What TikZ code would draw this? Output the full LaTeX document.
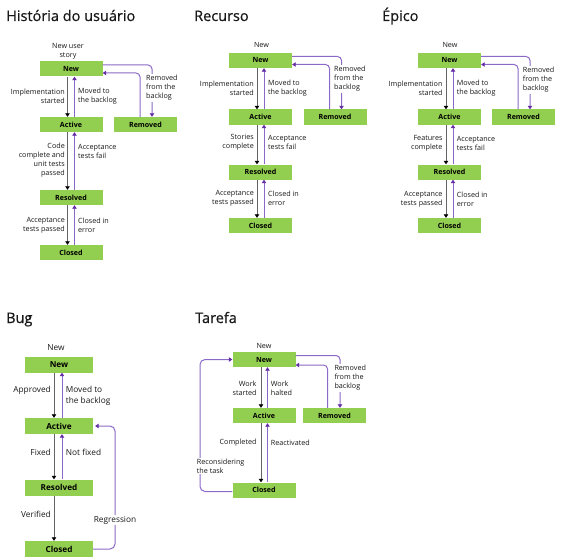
\documentclass[tikz,border=0pt]{standalone}
\usepackage{fontspec}
\setmainfont{Open Sans}
\newfontfamily\ttlfont[FakeBold=0.6]{Open Sans}
\usetikzlibrary{arrows.meta}
\definecolor{stgreen}{RGB}{146,206,80}
\definecolor{fwdline}{RGB}{100,100,100}
\definecolor{backline}{RGB}{140,105,200}
\definecolor{backtip}{RGB}{100,45,165}
\definecolor{txt}{RGB}{25,25,25}
\tikzset{
 st/.style={fill=stgreen, minimum width=63pt, minimum height=15pt, inner sep=0pt, font=\bfseries\fontsize{7.1}{8}\selectfont},
 bst/.style={st, minimum width=68pt, minimum height=16pt, font=\bfseries\fontsize{8.2}{9}\selectfont},
 lbl/.style={inner xsep=0pt, inner ysep=1pt, fill=white, font=\fontsize{7.2}{9}\selectfont, text=txt},
 lr/.style={lbl, anchor=east, align=right},
 ll/.style={lbl, anchor=west, align=left},
 big/.style={font=\fontsize{8.3}{11}\selectfont},
 fwd/.style={draw=fwdline, line width=1pt, -{Triangle[width=4.5pt,length=3.5pt,color=black]}},
 bwd/.style={draw=backline, line width=1pt, -{Triangle[width=4.5pt,length=3.5pt,color=backtip]}},
 rc/.style={rounded corners=4pt},
 ttl/.style={anchor=base west, inner sep=0pt, font=\ttlfont\fontsize{14.5}{17}\selectfont, text=txt},
}
\begin{document}
\begin{tikzpicture}[x=1pt,y=-1pt]
\useasboundingbox (0,0) rectangle (564,559);
% ---------- Historia do usuario ----------
\node[ttl] (Ht) at (6,21) {História do usuário};
\node[st] (Hn) at (71,69) {New};
\node[st] (Ha) at (71,124.5) {Active};
\node[st] (Hm) at (145.5,124.5) {Removed};
\node[st] (Hr) at (71,197.5) {Resolved};
\node[st] (Hc) at (71,252.5) {Closed};
\draw[fwd] ([xshift=-3.5pt]Hn.south) -- ([xshift=-3.5pt]Ha.north);
\draw[bwd] ([xshift=3.5pt]Ha.north) -- ([xshift=3.5pt]Hn.south);
\draw[fwd] ([xshift=-3.5pt]Ha.south) -- ([xshift=-3.5pt]Hr.north);
\draw[bwd] ([xshift=3.5pt]Hr.north) -- ([xshift=3.5pt]Ha.south);
\draw[fwd] ([xshift=-3.5pt]Hr.south) -- ([xshift=-3.5pt]Hc.north);
\draw[bwd] ([xshift=3.5pt]Hc.north) -- ([xshift=3.5pt]Hr.south);
\draw[bwd,rc] ([yshift=4pt]Hn.east) -| ([xshift=6.5pt]Hm.north);
\draw[bwd,rc] ([xshift=-5.5pt]Hm.north) |- ([yshift=-4pt]Hn.east);
\node[lbl, align=center] (Hl0) at (68,51) {New user\\story};
\node[lr] (Hl1) at (65,96) {Implementation\\started};
\node[ll] (Hl2) at (78,96) {Moved to\\the backlog};
\node[ll] (Hl3) at (146,88) {Removed\\from the\\backlog};
\node[lr] (Hl4) at (65,160) {Code\\complete and\\unit tests\\passed};
\node[ll] (Hl5) at (78,151.5) {Acceptance\\tests fail};
\node[lr] (Hl6) at (65,225.5) {Acceptance\\tests passed};
\node[ll] (Hl7) at (78,225.5) {Closed in\\error};
% ---------- Recurso ----------
\node[ttl] (Rt) at (194,21) {Recurso};
\node[st] (Rn) at (260.5,60.5) {New};
\node[st] (Ra) at (260.5,117) {Active};
\node[st] (Rm) at (335,117) {Removed};
\node[st] (Rr) at (260.5,172) {Resolved};
\node[st] (Rc) at (260.5,225.5) {Closed};
\draw[fwd] ([xshift=-3.5pt]Rn.south) -- ([xshift=-3.5pt]Ra.north);
\draw[bwd] ([xshift=3.5pt]Ra.north) -- ([xshift=3.5pt]Rn.south);
\draw[fwd] ([xshift=-3.5pt]Ra.south) -- ([xshift=-3.5pt]Rr.north);
\draw[bwd] ([xshift=3.5pt]Rr.north) -- ([xshift=3.5pt]Ra.south);
\draw[fwd] ([xshift=-3.5pt]Rr.south) -- ([xshift=-3.5pt]Rc.north);
\draw[bwd] ([xshift=3.5pt]Rc.north) -- ([xshift=3.5pt]Rr.south);
\draw[bwd,rc] ([yshift=4pt]Rn.east) -| ([xshift=6.5pt]Rm.north);
\draw[bwd,rc] ([xshift=-5.5pt]Rm.north) |- ([yshift=-4pt]Rn.east);
\node[lbl] (Rl0) at (261.5,45) {New};
\node[lr] (Rl1) at (254,88) {Implementation\\started};
\node[ll] (Rl2) at (268,88) {Moved to\\the backlog};
\node[ll] (Rl3) at (334,79) {Removed\\from the\\backlog};
\node[lr] (Rl4) at (254,142.5) {Stories\\complete};
\node[ll] (Rl5) at (268,142.5) {Acceptance\\tests fail};
\node[lr] (Rl6) at (254,198) {Acceptance\\tests passed};
\node[ll] (Rl7) at (268,198) {Closed in\\error};
% ---------- Epico ----------
\node[ttl] (Et) at (382,21) {Épico};
\node[st] (En) at (449.5,60.5) {New};
\node[st] (Ea) at (449.5,117) {Active};
\node[st] (Em) at (523.5,117) {Removed};
\node[st] (Er) at (449.5,172) {Resolved};
\node[st] (Ec) at (449.5,225.5) {Closed};
\draw[fwd] ([xshift=-3.5pt]En.south) -- ([xshift=-3.5pt]Ea.north);
\draw[bwd] ([xshift=3.5pt]Ea.north) -- ([xshift=3.5pt]En.south);
\draw[fwd] ([xshift=-3.5pt]Ea.south) -- ([xshift=-3.5pt]Er.north);
\draw[bwd] ([xshift=3.5pt]Er.north) -- ([xshift=3.5pt]Ea.south);
\draw[fwd] ([xshift=-3.5pt]Er.south) -- ([xshift=-3.5pt]Ec.north);
\draw[bwd] ([xshift=3.5pt]Ec.north) -- ([xshift=3.5pt]Er.south);
\draw[bwd,rc] ([yshift=4pt]En.east) -| ([xshift=6.5pt]Em.north);
\draw[bwd,rc] ([xshift=-5.5pt]Em.north) |- ([yshift=-4pt]En.east);
\node[lbl] (El0) at (450,45) {New};
\node[lr] (El1) at (442.7,88) {Implementation\\started};
\node[ll] (El2) at (456.7,88) {Moved to\\the backlog};
\node[ll] (El3) at (522.7,80) {Removed\\from the\\backlog};
\node[lr] (El4) at (442.7,143) {Features\\complete};
\node[ll] (El5) at (456.7,143) {Acceptance\\tests fail};
\node[lr] (El6) at (442.7,199) {Acceptance\\tests passed};
\node[ll] (El7) at (456.7,199) {Closed in\\error};
% ---------- Bug ----------
\node[ttl] (Bt) at (6,323) {Bug};
\node[bst] (Bn) at (59,364.5) {New};
\node[bst] (Ba) at (59,426) {Active};
\node[bst] (Br) at (59,487.5) {Resolved};
\node[bst] (Bc) at (59,549) {Closed};
\coordinate (Bx) at (115,490);
\draw[fwd] ([xshift=-5pt]Bn.south) -- ([xshift=-5pt]Ba.north);
\draw[bwd] ([xshift=3pt]Ba.north) -- ([xshift=3pt]Bn.south);
\draw[fwd] ([xshift=-5pt]Ba.south) -- ([xshift=-5pt]Br.north);
\draw[bwd] ([xshift=3pt]Br.north) -- ([xshift=3pt]Ba.south);
\draw[fwd] ([xshift=-5pt]Br.south) -- ([xshift=-5pt]Bc.north);
\draw[bwd,rounded corners=5pt] (Bc.east) -- (Bc.east -| Bx) -- (Ba.east -| Bx) -- ([xshift=2pt]Ba.east);
\node[lbl,big] (Bl0) at (56,347.3) {New};
\node[lr,big] (Bl1) at (51,390.7) {Approved};
\node[ll,big] (Bl2) at (65.7,396) {Moved to\\the backlog};
\node[lr,big] (Bl3) at (51,452.7) {Fixed};
\node[ll,big] (Bl4) at (65.7,452.7) {Not fixed};
\node[lr,big] (Bl5) at (51,514.3) {Verified};
\node[lbl,big] (Bl6) at (115,520) {Regression};
% ---------- Tarefa ----------
\node[ttl] (Tt) at (195,323) {Tarefa};
\node[st] (Tn) at (264,359.5) {New};
\node[st] (Ta) at (264,415.5) {Active};
\node[st] (Tm) at (334.5,415.5) {Removed};
\node[st] (Tc) at (264,490) {Closed};
\coordinate (Tx) at (200,420);
\draw[fwd] ([xshift=-3pt]Tn.south) -- ([xshift=-3pt]Ta.north);
\draw[bwd] ([xshift=3.5pt]Ta.north) -- ([xshift=3.5pt]Tn.south);
\draw[fwd] ([xshift=-3pt]Ta.south) -- ([xshift=-3pt]Tc.north);
\draw[bwd] ([xshift=3.5pt]Tc.north) -- ([xshift=3.5pt]Ta.south);
\draw[bwd,rc] ([yshift=4pt]Tn.east) -| ([xshift=5.5pt]Tm.north);
\draw[bwd,rc] ([xshift=-7pt]Tm.north) |- ([yshift=-5.5pt]Tn.east);
\draw[bwd,rounded corners=5pt] ([yshift=-1.5pt]Tc.west) -- ([yshift=-1.5pt]Tc.west -| Tx) -- (Tn.west -| Tx) -- (Tn.west);
\node[lbl] (Tl0) at (264,346) {New};
\node[lr] (Tl1) at (256.7,388) {Work\\started};
\node[ll] (Tl2) at (270.7,388) {Work\\halted};
\node[lr] (Tl3) at (256.7,442.3) {Completed};
\node[ll] (Tl4) at (270.7,442.3) {Reactivated};
\node[ll] (Tl5) at (334.3,378) {Removed\\from the\\backlog};
\node[ll] (Tl6) at (196.7,465.8) {Reconsidering\\the task};
\end{tikzpicture}
\end{document}
